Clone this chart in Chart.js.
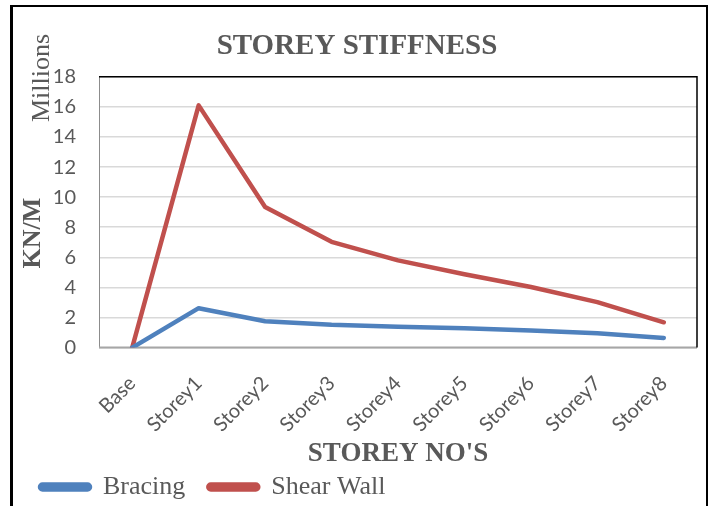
<!DOCTYPE html>
<html>
<head>
<meta charset="utf-8">
<script src="https://cdn.jsdelivr.net/npm/chart.js@4"></script>
<style>
  html, body { margin: 0; padding: 0; background: #fff; }
  #wrap { width: 713px; height: 506px; position: relative; }
</style>
</head>
<body>
<div id="wrap"><canvas id="stiffChart" width="713" height="506"></canvas></div>
<script>
// ── Data ──────────────────────────────────────────────────────
const storeys   = ['Base', 'Storey1', 'Storey2', 'Storey3', 'Storey4', 'Storey5', 'Storey6', 'Storey7', 'Storey8'];
const bracing   = [0, 2.62, 1.75, 1.52, 1.39, 1.28, 1.13, 0.95, 0.64];
const shearWall = [0, 16.1, 9.35, 7.03, 5.8, 4.88, 4.03, 3.02, 1.68];
const yMin = 0, yMax = 18, yStep = 2;

const grey  = '#595959';
const serif = '"Liberation Serif", "Times New Roman", serif';

// ── Frame, plot border and side labels ───────────────────────
const decorations = {
    id: 'decorations',
    beforeDatasetsDraw(chart) {
        const { ctx, chartArea: a } = chart;
        ctx.save();
        // left + bottom in grey
        ctx.strokeStyle = '#8c8c8c';
        ctx.lineWidth = 1;
        ctx.beginPath();
        ctx.moveTo(a.left + 0.5, a.top);
        ctx.lineTo(a.left + 0.5, a.bottom);
        ctx.stroke();
        ctx.strokeStyle = '#a6a6a6';
        ctx.lineWidth = 2;
        ctx.beginPath();
        ctx.moveTo(a.left, a.bottom);
        ctx.lineTo(a.right, a.bottom);
        ctx.stroke();
        // top + right in black
        ctx.strokeStyle = '#000';
        ctx.lineWidth = 1.5;
        ctx.beginPath();
        ctx.moveTo(a.left, a.top);
        ctx.lineTo(a.right, a.top);
        ctx.lineTo(a.right, a.bottom);
        ctx.stroke();
        ctx.restore();
    },
    afterDraw(chart) {
        const { ctx, chartArea: a } = chart;
        ctx.save();
        // outer frame (bottom edge is cut off)
        ctx.strokeStyle = '#000';
        ctx.lineWidth = 3;
        ctx.beginPath();
        ctx.moveTo(11.5, 506);
        ctx.lineTo(11.5, 5);
        ctx.stroke();
        ctx.lineWidth = 2;
        ctx.beginPath();
        ctx.moveTo(10, 6);
        ctx.lineTo(707, 6);
        ctx.lineTo(707, 506);
        ctx.stroke();

        ctx.fillStyle = grey;
        ctx.textAlign = 'center';
        ctx.textBaseline = 'middle';
        // "Millions"
        ctx.save();
        ctx.translate(42, 78);
        ctx.rotate(-Math.PI / 2);
        ctx.font = '26px ' + serif;
        ctx.fillText('Millions', 0, 0);
        ctx.restore();
        // "KN/M"
        ctx.save();
        ctx.translate(33, a.top + (a.bottom - a.top) * 0.577);
        ctx.rotate(-Math.PI / 2);
        ctx.font = 'bold 26px ' + serif;
        ctx.fillText('KN/M', 0, 0);
        ctx.restore();
        ctx.restore();
    }
};

// ── Chart ─────────────────────────────────────────────────────
const ctx = document.getElementById('stiffChart').getContext('2d');

new Chart(ctx, {
    type: 'line',
    data: {
        labels: storeys,
        datasets: [
            {
                label: 'Bracing',
                data: bracing,
                borderColor: '#4f81bd',
                backgroundColor: '#4f81bd',
                borderWidth: 4.5,
                borderCapStyle: 'round',
                borderJoinStyle: 'round',
                pointRadius: 0,
                tension: 0,
            },
            {
                label: 'Shear Wall',
                data: shearWall,
                borderColor: '#c0504d',
                backgroundColor: '#c0504d',
                borderWidth: 4.5,
                borderCapStyle: 'round',
                borderJoinStyle: 'round',
                pointRadius: 0,
                tension: 0,
            }
        ]
    },
    options: {
        responsive: false,
        animation: false,
        layout: { padding: { left: 17, right: 16, top: 0, bottom: -4 } },
        plugins: {
            title: {
                display: true,
                text: 'STOREY STIFFNESS',
                color: grey,
                font: { family: serif, size: 29, weight: 'bold' },
                padding: { top: 29, bottom: 13 },
            },
            legend: {
                position: 'bottom',
                align: 'start',
                labels: {
                    color: grey,
                    font: { family: serif, size: 26 },
                    boxWidth: 50,
                    boxHeight: 5,
                    useBorderRadius: true,
                    borderRadius: 2.5,
                    padding: 23,
                }
            },
            tooltip: { enabled: false }
        },
        scales: {
            x: {
                offset: true,
                grid: { display: false, drawTicks: false },
                border: { display: false },
                ticks: {
                    color: grey,
                    font: { family: 'Lato', size: 20 },
                    minRotation: 45,
                    maxRotation: 45,
                    padding: 24,
                },
                title: {
                    display: true,
                    text: "STOREY NO'S",
                    color: grey,
                    font: { family: serif, size: 27, weight: 'bold' },
                    padding: { top: -23, bottom: -19 },
                }
            },
            y: {
                min: yMin,
                max: yMax,
                afterFit(scale) { scale.width = 82; },
                grid: { color: '#d9d9d9', lineWidth: 1.5, drawTicks: false },
                border: { display: false },
                ticks: {
                    stepSize: yStep,
                    color: grey,
                    font: { family: 'Lato', size: 20 },
                    padding: 23,
                }
            }
        }
    },
    plugins: [decorations]
});
</script>
</body>
</html>
